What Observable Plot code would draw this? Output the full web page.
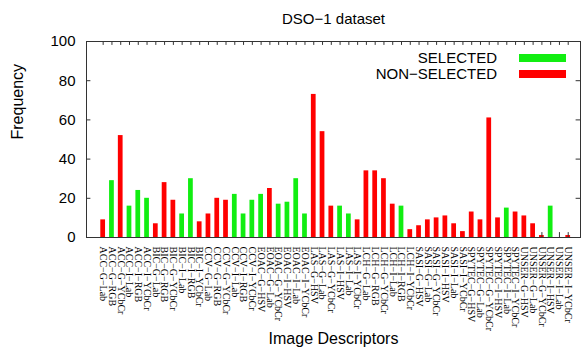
<!DOCTYPE html>
<html><head><meta charset="utf-8">
<script src="https://cdn.jsdelivr.net/npm/d3@7"></script>
<script src="https://cdn.jsdelivr.net/npm/@observablehq/plot@0.6"></script>
<style>body{margin:0;background:#fff}#chart{position:relative;width:582px;height:358px}</style>
</head><body><div id="chart"></div>
<script>
const descriptors = [
  "ACC−G−Lab","ACC−G−RGB","ACC−G−YCbCr","ACC−I−Lab","ACC−I−RGB","ACC−I−YCbCr",
  "BIC−G−Lab","BIC−G−RGB","BIC−G−YCbCr","BIC−I−Lab","BIC−I−RGB","BIC−I−YCbCr",
  "CCV−G−Lab","CCV−G−RGB","CCV−G−YCbCr","CCV−I−Lab","CCV−I−RGB","CCV−I−YCbCr",
  "EOAC−G−HSV","EOAC−G−Lab","EOAC−G−YCbCr","EOAC−I−HSV","EOAC−I−Lab","EOAC−I−YCbCr",
  "LAS−G−HSV","LAS−G−Lab","LAS−G−YCbCr","LAS−I−HSV","LAS−I−Lab","LAS−I−YCbCr",
  "LCH−G−Lab","LCH−G−RGB","LCH−G−YCbCr","LCH−I−Lab","LCH−I−RGB","LCH−I−YCbCr",
  "SASI−G−HSV","SASI−G−Lab","SASI−G−YCbCr","SASI−I−HSV","SASI−I−Lab","SASI−I−YCbCr",
  "SPYTEC−G−HSV","SPYTEC−G−Lab","SPYTEC−G−YCbCr","SPYTEC−I−HSV","SPYTEC−I−Lab","SPYTEC−I−YCbCr",
  "UNSER−G−HSV","UNSER−G−Lab","UNSER−G−YCbCr","UNSER−I−HSV","UNSER−I−Lab","UNSER−I−YCbCr"
];
const frequency = [
  9,29,52,16,24,20,
  7,28,19,12,30,8,
  12,20,19,22,12,19,
  22,25,17,18,30,12,
  73,54,16,16,12,9,
  34,34,30,17,16,4,
  6,9,10,11,7,3,
  13,9,61,10,15,13,
  11,7,1,16,0,1
];
const status = [
  "N","S","N","S","S","S",
  "N","N","N","S","S","N",
  "N","N","N","S","S","S",
  "S","N","S","S","S","S",
  "N","N","N","S","S","N",
  "N","N","N","N","S","N",
  "N","N","N","N","N","N",
  "N","N","N","N","S","N",
  "N","N","N","S","N","N"
];
const seriesNames = ["SELECTED","NON−SELECTED"];
const seriesColors = ["#11ee11","#ff0000"];
const yTicks = [0,20,40,60,80,100];
const markedIndex = [50,52,53];
const markedHeight = [2.5,2.5,2.5];

const data = descriptors.map((d,i)=>({i, name:d, value:frequency[i], s: status[i]==="S" ? seriesNames[0] : seriesNames[1]}));
const marks = markedIndex.map((i,k)=>({i, h:markedHeight[k]}));
const xmin = -1.9, xmax = 54.4, half = 0.27;
const idx = descriptors.map((d,i)=>i);

const plot = Plot.plot({
  width: 582, height: 358,
  marginLeft: 86, marginRight: 2, marginTop: 41, marginBottom: 121,
  style: {fontFamily: "Liberation Sans, Arial, sans-serif", background: "#fff"},
  x: {type: "linear", domain: [xmin, xmax]},
  y: {domain: [0, 100]},
  color: {domain: seriesNames, range: seriesColors},
  marks: [
    Plot.rectY(data, {x1: d=>d.i-half, x2: d=>d.i+half, y1: 0, y2: "value", fill: "s"}),
    Plot.ruleX(marks, {x: "i", y1: 0, y2: "h", stroke: "#333", strokeWidth: 1}),
    Plot.ruleY(yTicks, {x1: xmin, x2: xmin+0.5, stroke: "#333"}),
    Plot.ruleY(yTicks, {x1: xmax-0.5, x2: xmax, stroke: "#333"}),
    Plot.ruleX(idx, {y1: 100, y2: 98, stroke: "#333"}),
    Plot.frame({stroke: "#333"}),
    Plot.axisY({ticks: yTicks, tickSize: 0, tickPadding: 11, fontSize: 15, label: null}),
    Plot.axisX({ticks: idx, tickFormat: i=>descriptors[i], tickRotate: 90, tickSize: 0, tickPadding: 9,
      fontSize: 10, fontFamily: "Liberation Serif, Times New Roman, serif", label: null}),
    Plot.text(["DSO−1 dataset"], {frameAnchor: "top", dy: -28, fontSize: 15}),
    Plot.text(["Frequency"], {frameAnchor: "left", dx: -69, rotate: -90, fontSize: 16}),
    Plot.text(["Image Descriptors"], {frameAnchor: "bottom", dy: 106, fontSize: 16})
  ]
});
const svg = d3.select(plot);
const legendY = [58, 74];
seriesNames.forEach((n,k)=>{
  svg.append("text").attr("x", 497).attr("y", legendY[k]).attr("dy","0.35em")
    .attr("text-anchor","end").attr("font-size",15).attr("fill","#000").text(n);
  svg.append("rect").attr("x", 519).attr("y", legendY[k]-4).attr("width", 47).attr("height", 8)
    .attr("fill", seriesColors[k]);
});
document.getElementById("chart").appendChild(plot);
</script>
</body></html>
